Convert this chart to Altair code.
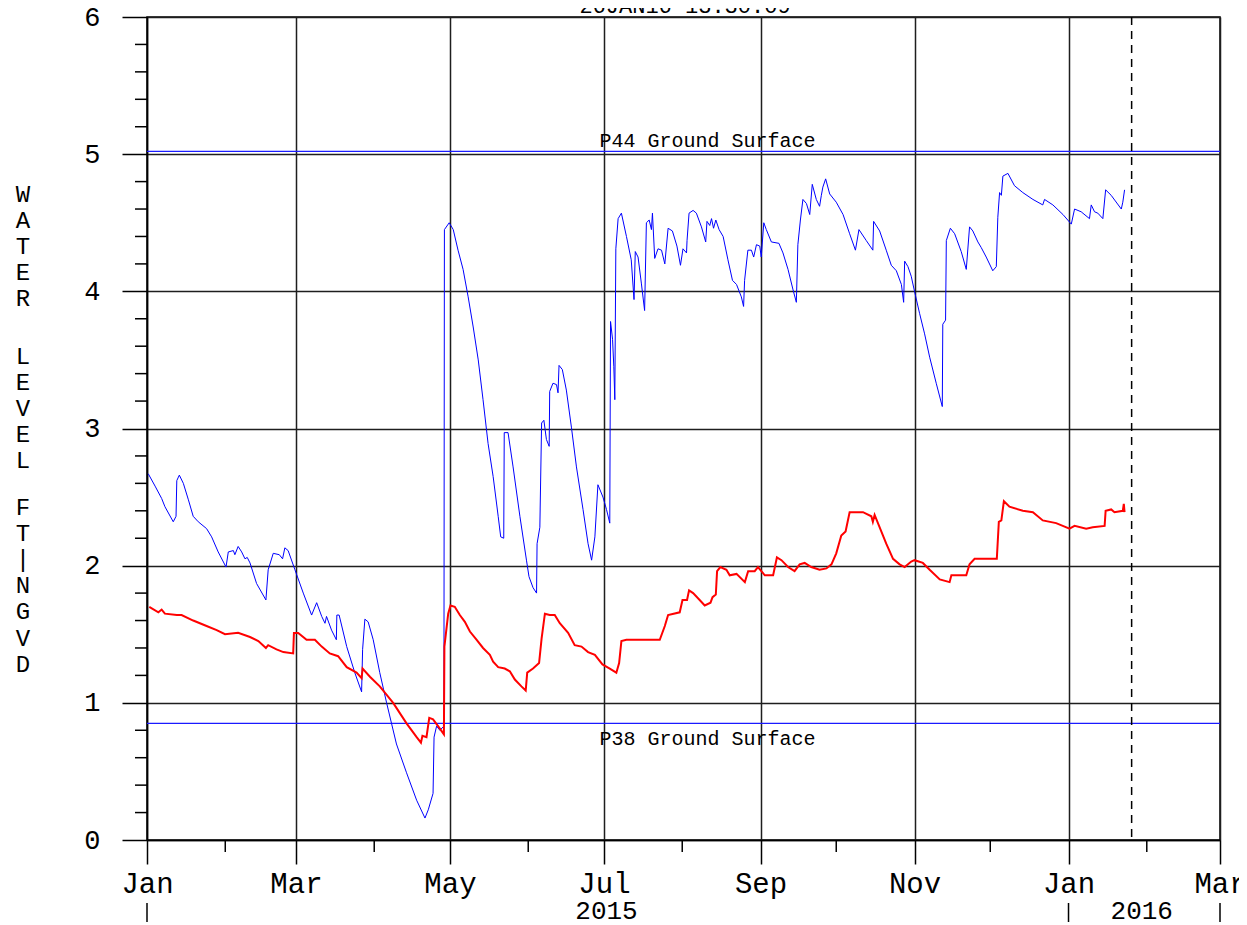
import altair as alt
import pandas as pd

# ---------------- data ----------------
# days after 2015-01-01, water level (ft NGVD)
blue_day = [0.5, 3.2, 5.8, 7.1, 10.4, 11.5, 11.8, 12.8, 14.4, 16.4,
            18.3, 20.3, 23.6, 25.6, 28.2, 31.3, 32.2, 34.2, 34.8, 36.1,
            37.5, 38.8, 39.7, 40.8, 43.4, 47.1, 48.0, 50.0, 52.4, 53.7,
            54.6, 55.9, 58.6, 61.9, 65.2, 67.2, 69.2, 70.5, 71.1, 73.1,
            75.0, 75.2, 76.1, 79.1, 82.3, 85.0, 85.4, 86.3, 87.6, 89.6,
            92.2, 94.9, 98.8, 102.8, 106.8, 110.1, 111.4, 113.3, 113.7, 114.7,
            116.0, 117.6, 117.8, 119.7, 121.3, 123.2, 125.2, 127.2, 129.2, 131.2,
            133.1, 135.1, 137.1, 139.1, 140.1, 141.3, 141.5, 143.0, 145.0, 147.7,
            150.3, 151.3, 152.9, 154.3, 154.5, 155.6, 156.3, 157.2, 158.2, 159.3,
            159.5, 160.8, 162.2, 162.8, 163.2, 164.5, 166.1, 168.1, 170.1, 172.7,
            174.7, 176.1, 177.4, 178.6, 180.6, 182.0, 183.3, 183.6, 184.4, 184.9,
            185.3, 185.7, 186.6, 187.9, 189.9, 191.8, 192.9, 193.4, 194.5, 195.8,
            197.1, 197.8, 198.9, 199.8, 200.2, 201.1, 202.4, 203.8, 205.1, 206.4,
            208.1, 209.9, 211.3, 212.3, 213.7, 213.9, 214.7, 216.3, 217.6, 219.6,
            221.3, 221.8, 222.9, 223.6, 224.4, 225.3, 226.6, 228.2, 230.1, 231.9,
            233.5, 235.4, 236.3, 236.7, 238.0, 239.4, 240.3, 241.4, 242.7, 243.3,
            244.3, 245.3, 247.3, 250.3, 251.9, 253.9, 255.9, 257.2, 257.8, 258.8,
            259.8, 261.2, 262.5, 263.5, 265.1, 266.4, 267.1, 267.7, 268.8, 270.4,
            273.0, 275.7, 278.3, 280.6, 282.0, 284.9, 287.5, 287.8, 290.2, 292.8,
            294.8, 296.8, 298.8, 299.7, 300.1, 301.4, 302.7, 304.0, 306.0, 308.0,
            310.0, 312.6, 315.0, 315.2, 316.3, 316.6, 318.2, 319.9, 322.5, 324.5,
            325.8, 327.1, 329.1, 330.4, 332.4, 335.0, 336.4, 337.0, 337.7, 338.4,
            339.0, 341.0, 343.6, 346.9, 350.9, 354.8, 355.5, 358.8, 362.8, 366.1,
            367.4, 370.0, 373.3, 374.0, 375.3, 376.6, 378.6, 379.7, 381.9, 385.9,
            386.5, 387.2]
blue_ft = [2.67, 2.58, 2.49, 2.43, 2.32, 2.36, 2.62, 2.66, 2.60, 2.48,
           2.36, 2.32, 2.27, 2.21, 2.10, 1.99, 2.10, 2.11, 2.08, 2.14,
           2.10, 2.05, 2.06, 2.02, 1.87, 1.75, 1.97, 2.09, 2.08, 2.05,
           2.13, 2.11, 1.97, 1.80, 1.64, 1.73, 1.63, 1.58, 1.63, 1.53,
           1.46, 1.64, 1.64, 1.41, 1.22, 1.08, 1.39, 1.61, 1.59, 1.46,
           1.22, 1.00, 0.70, 0.49, 0.29, 0.16, 0.22, 0.34, 0.75, 0.83,
           0.80, 0.83, 4.45, 4.50, 4.45, 4.30, 4.16, 3.96, 3.74, 3.50,
           3.21, 2.89, 2.65, 2.36, 2.21, 2.20, 2.97, 2.97, 2.72, 2.36,
           2.04, 1.92, 1.84, 1.80, 2.16, 2.28, 3.04, 3.06, 2.92, 2.87,
           3.27, 3.33, 3.32, 3.26, 3.46, 3.43, 3.28, 3.01, 2.72, 2.41,
           2.16, 2.04, 2.21, 2.59, 2.50, 2.41, 2.31, 3.78, 3.65, 3.45,
           3.21, 4.31, 4.53, 4.57, 4.40, 4.23, 3.94, 4.29, 4.25, 4.06,
           3.86, 4.50, 4.52, 4.45, 4.57, 4.24, 4.31, 4.30, 4.20, 4.46,
           4.44, 4.33, 4.19, 4.31, 4.28, 4.37, 4.57, 4.59, 4.57, 4.47,
           4.36, 4.51, 4.48, 4.53, 4.46, 4.52, 4.45, 4.40, 4.23, 4.08,
           4.05, 3.96, 3.89, 4.08, 4.30, 4.30, 4.25, 4.34, 4.33, 4.25,
           4.50, 4.45, 4.36, 4.35, 4.28, 4.16, 4.01, 3.92, 4.34, 4.52,
           4.67, 4.64, 4.56, 4.78, 4.67, 4.62, 4.70, 4.76, 4.82, 4.71,
           4.65, 4.56, 4.42, 4.30, 4.45, 4.37, 4.30, 4.51, 4.44, 4.30,
           4.19, 4.15, 4.05, 3.92, 4.22, 4.18, 4.11, 4.00, 3.84, 3.69,
           3.52, 3.33, 3.16, 3.76, 3.79, 4.37, 4.46, 4.42, 4.29, 4.16,
           4.47, 4.44, 4.36, 4.32, 4.25, 4.15, 4.18, 4.54, 4.72, 4.70,
           4.84, 4.86, 4.77, 4.72, 4.67, 4.63, 4.67, 4.63, 4.56, 4.49,
           4.60, 4.58, 4.53, 4.63, 4.58, 4.57, 4.53, 4.74, 4.70, 4.60,
           4.65, 4.74]

red_day = [0.9, 4.5, 5.8, 7.1, 11.8, 13.7, 18.3, 23.6, 27.6, 30.9,
           36.1, 40.8, 44.1, 47.1, 48.0, 51.3, 54.0, 57.9, 58.2, 59.9,
           63.2, 66.5, 69.2, 72.4, 75.7, 79.1, 83.0, 85.0, 85.4, 88.3,
           92.2, 97.5, 102.8, 106.8, 108.5, 109.1, 110.7, 111.8, 113.3, 115.3,
           117.6, 117.8, 119.3, 120.2, 121.9, 123.9, 125.9, 127.9, 130.5, 133.1,
           135.8, 137.1, 139.1, 141.7, 143.7, 145.7, 148.3, 150.0, 150.6, 152.9,
           155.3, 156.3, 157.6, 159.5, 161.5, 163.5, 166.8, 169.4, 172.1, 174.7,
           177.4, 180.4, 183.3, 185.9, 187.0, 187.9, 189.9, 195.2, 199.8, 203.1,
           205.1, 206.4, 211.0, 212.1, 213.9, 214.7, 216.3, 218.9, 220.9, 223.2,
           224.0, 225.3, 225.8, 227.1, 229.5, 230.8, 233.5, 236.8, 238.1, 240.7,
           242.0, 244.7, 248.0, 249.5, 251.3, 253.9, 256.5, 258.5, 260.5, 263.1,
           266.4, 269.1, 271.1, 273.0, 275.0, 276.7, 278.3, 281.0, 283.6, 286.9,
           287.5, 288.2, 290.2, 292.8, 295.5, 298.1, 300.1, 302.7, 304.0, 307.3,
           310.0, 314.0, 317.9, 318.6, 324.5, 325.8, 327.8, 336.6, 337.4, 338.4,
           339.4, 341.6, 346.9, 350.9, 354.8, 360.1, 365.4, 367.4, 372.0, 374.6,
           379.3, 379.7, 381.9, 383.2, 386.5, 386.9, 387.2]
red_ft = [1.70, 1.66, 1.68, 1.65, 1.64, 1.64, 1.60, 1.56, 1.53, 1.50,
          1.51, 1.48, 1.45, 1.40, 1.42, 1.39, 1.37, 1.36, 1.51, 1.51,
          1.46, 1.46, 1.41, 1.36, 1.34, 1.26, 1.22, 1.18, 1.25, 1.19,
          1.12, 1.00, 0.85, 0.75, 0.71, 0.76, 0.75, 0.89, 0.88, 0.83,
          0.77, 1.41, 1.65, 1.71, 1.70, 1.64, 1.59, 1.52, 1.46, 1.40,
          1.35, 1.30, 1.26, 1.25, 1.23, 1.17, 1.12, 1.09, 1.22, 1.25,
          1.29, 1.47, 1.65, 1.64, 1.64, 1.58, 1.51, 1.42, 1.41, 1.37,
          1.35, 1.28, 1.25, 1.22, 1.29, 1.45, 1.46, 1.46, 1.46, 1.46,
          1.56, 1.64, 1.66, 1.75, 1.75, 1.82, 1.80, 1.75, 1.71, 1.73,
          1.77, 1.79, 1.96, 1.99, 1.97, 1.93, 1.94, 1.88, 1.96, 1.96,
          1.99, 1.93, 1.93, 2.06, 2.04, 1.99, 1.96, 2.01, 2.02, 1.99,
          1.97, 1.98, 2.01, 2.09, 2.22, 2.25, 2.39, 2.39, 2.39, 2.36,
          2.32, 2.37, 2.28, 2.16, 2.05, 2.01, 1.99, 2.03, 2.04, 2.02,
          1.97, 1.90, 1.88, 1.93, 1.93, 2.01, 2.05, 2.05, 2.32, 2.33,
          2.47, 2.43, 2.40, 2.39, 2.33, 2.31, 2.27, 2.29, 2.27, 2.28,
          2.29, 2.40, 2.41, 2.39, 2.40, 2.45, 2.39]

ground_ft = [5.02, 0.85]
ground_labels = ["P44 Ground Surface", "P38 Ground Surface"]
ground_label_date = "2015-08-11"

run_stamp = "26JAN16 13:30:09"
now_date = "2016-01-26"

x_start, x_end = "2015-01-01", "2016-03-01"
month_major = ["2015-01-01", "2015-03-01", "2015-05-01", "2015-07-01",
               "2015-09-01", "2015-11-01", "2016-01-01", "2016-03-01"]
month_minor = ["2015-02-01", "2015-04-01", "2015-06-01", "2015-08-01",
               "2015-10-01", "2015-12-01", "2016-02-01"]
year_labels = ["2015", "2016"]
year_centers = ["2015-07-02", "2016-01-30"]
year_bounds = ["2015-01-01", "2016-01-01", "2016-03-01"]

y_min, y_max = 0, 6
y_major = [0, 1, 2, 3, 4, 5, 6]
y_minor = [0.2, 0.4, 0.6, 0.8, 1.2, 1.4, 1.6, 1.8, 2.2, 2.4, 2.6, 2.8,
           3.2, 3.4, 3.6, 3.8, 4.2, 4.4, 4.6, 4.8, 5.2, 5.4, 5.6, 5.8]
# y-axis title, written one upright letter per line, in three words
y_title_words = [["W", "A", "T", "E", "R"],
                 ["L", "E", "V", "E", "L"],
                 ["F", "T", "|", "N", "G", "V", "D"]]

# ---------------- layout / style ----------------
W, H = 1073, 823
FONT = "Courier New, Liberation Mono, monospace"
INK = "#000000"
GRID = "#1e1e1e"

START = pd.Timestamp("2015-01-01")


def day_to_date(days):
    return [START + pd.Timedelta(days=float(d)) for d in days]


def dt(s):
    t = pd.Timestamp(s)
    return alt.DateTime(year=t.year, month=t.month, date=t.day)


blue_df = pd.DataFrame({"date": day_to_date(blue_day), "ft": blue_ft,
                        "i": list(range(len(blue_day)))})
red_df = pd.DataFrame({"date": day_to_date(red_day), "ft": red_ft,
                       "i": list(range(len(red_day)))})
ground_df = pd.DataFrame({"ft": ground_ft, "label": ground_labels,
                          "date": [pd.Timestamp(ground_label_date)] * 2})
now_df = pd.DataFrame({"date": [pd.Timestamp(now_date)]})
minor_x_df = pd.DataFrame({"date": [pd.Timestamp(s) for s in month_minor]})
minor_y_df = pd.DataFrame({"ft": y_minor})
year_df = pd.DataFrame({"date": [pd.Timestamp(s) for s in year_centers],
                        "label": year_labels})
bound_df = pd.DataFrame({"date": [pd.Timestamp(s) for s in year_bounds]})
one_df = pd.DataFrame({"k": [0]})

x_scale = alt.Scale(domain=[dt(x_start), dt(x_end)], nice=False)
y_scale = alt.Scale(domain=[y_min, y_max], nice=False, zero=False)

x_axis = alt.Axis(values=[dt(s) for s in month_major], format="%b", title=None,
                  labelFont=FONT, labelFontSize=29, labelColor=INK,
                  labelPadding=5, labelFlush=False, labelOverlap=False,
                  labelBound=False, tickSize=24, tickColor=INK, tickWidth=1.5,
                  domainColor=INK, domainWidth=1.5, grid=True, gridColor=GRID,
                  gridWidth=1.5, gridOpacity=1)
y_axis = alt.Axis(values=y_major, format="d", title=None, labelFont=FONT,
                  labelFontSize=27, labelColor=INK, labelPadding=22,
                  tickSize=25, tickColor=INK, tickWidth=1.5, domainColor=INK,
                  domainWidth=1.5, grid=True, gridColor=GRID, gridWidth=1.5,
                  gridOpacity=1, labelOverlap=False, labelFlush=False)


def X(field="date:T"):
    return alt.X(field, scale=x_scale, axis=x_axis)


def Y(field="ft:Q"):
    return alt.Y(field, scale=y_scale, axis=y_axis)


blue = alt.Chart(blue_df).mark_line(color="#0000ff", strokeWidth=1).encode(
    x=X(), y=Y(), order="i:Q")

red = alt.Chart(red_df).mark_line(color="#ff0000", strokeWidth=2).encode(
    x=X(), y=Y(), order="i:Q")

ground = alt.Chart(ground_df).mark_rule(color="#1a1aff", strokeWidth=1.3).encode(y=Y())

p44_text = alt.Chart(ground_df.iloc[[0]]).mark_text(
    font=FONT, fontSize=20, color=INK, align="center", baseline="alphabetic", dy=-4
).encode(x=X(), y=Y(), text="label:N")
p38_text = alt.Chart(ground_df.iloc[[1]]).mark_text(
    font=FONT, fontSize=20, color=INK, align="center", baseline="top", dy=6
).encode(x=X(), y=Y(), text="label:N")

now_rule = alt.Chart(now_df).mark_rule(color=INK, strokeWidth=1.5,
                                        strokeDash=[8, 6]).encode(x=X())

minor_x = alt.Chart(minor_x_df).mark_rule(color=INK, strokeWidth=1.5).encode(
    x=X(), y=alt.value(H), y2=alt.value(H + 12))
minor_y = alt.Chart(minor_y_df).mark_rule(color=INK, strokeWidth=1.5).encode(
    y=Y(), x=alt.value(-12), x2=alt.value(0))

years = alt.Chart(year_df).mark_text(font=FONT, fontSize=26, color=INK,
                                     align="center", baseline="middle").encode(
    x=X(), y=alt.value(H + 71), text="label:N")
bounds = alt.Chart(bound_df).mark_rule(color=INK, strokeWidth=1.5).encode(
    x=X(), y=alt.value(H + 63), y2=alt.value(H + 82))

word_tops = [178, 340, 491]
ytitle_layers = [
    alt.Chart(one_df).mark_text(font=FONT, fontSize=24, color=INK,
                                align="center", baseline="middle",
                                lineHeight=26.1).encode(
        x=alt.value(-124), y=alt.value(top), text=alt.value(word))
    for word, top in zip(y_title_words, word_tops)
]

stamp = alt.Chart(one_df).mark_text(font=FONT, fontSize=22, color=INK,
                                    align="center", baseline="alphabetic").encode(
    x=alt.value(538), y=alt.value(-4), text=alt.value(run_stamp))

chart = alt.layer(
    ground, blue, red, now_rule, p44_text, p38_text, minor_x, minor_y,
    years, bounds, *ytitle_layers, stamp
).properties(
    width=W, height=H,
    padding={"left": 139, "top": 9, "right": 19, "bottom": 84},
    autosize=alt.AutoSizeParams(type="none"),
    background="white",
).configure_view(stroke=INK, strokeWidth=1.5)

chart.save("out.html", embed_options={"renderer": "svg", "actions": False})
